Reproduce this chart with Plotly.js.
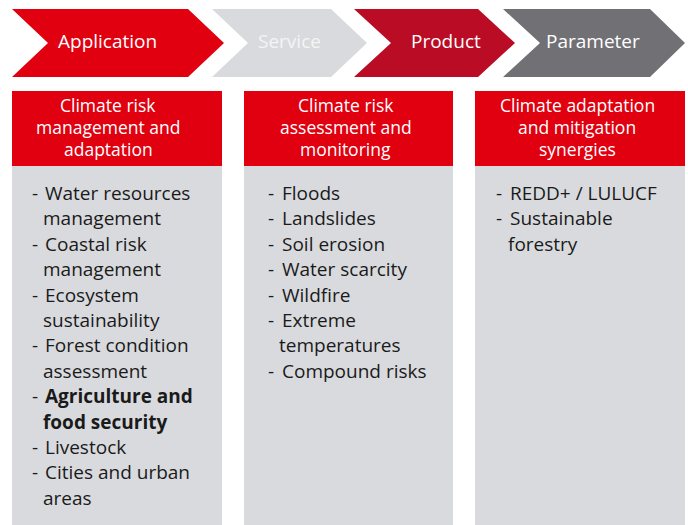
<!DOCTYPE html>
<html>
<head>
<meta charset="utf-8">
<script src="https://cdn.plot.ly/plotly-3.0.1.min.js"></script>
<style>
  html, body { margin: 0; padding: 0; background: #ffffff; }
  #chart { width: 688px; height: 525px; }
</style>
</head>
<body>
<div id="chart"></div>
<script>
// ---- Data ----
const stages = ["Application", "Service", "Product", "Parameter"];

const headers = [
  ["Climate risk", "management and", "adaptation"],
  ["Climate risk", "assessment and", "monitoring"],
  ["Climate adaptation", "and mitigation", "synergies"]
];

const itemsCol1 = [
  ["Water resources", "management"],
  ["Coastal risk", "management"],
  ["Ecosystem", "sustainability"],
  ["Forest condition", "assessment"],
  ["Agriculture and", "food security"],
  ["Livestock"],
  ["Cities and urban", "areas"]
];
const itemsCol2 = [
  ["Floods"],
  ["Landslides"],
  ["Soil erosion"],
  ["Water scarcity"],
  ["Wildfire"],
  ["Extreme", "temperatures"],
  ["Compound risks"]
];
const itemsCol3 = [
  ["REDD+ / LULUCF"],
  ["Sustainable", "forestry"]
];
const highlightedItems = ["Agriculture and"]; // first line of emphasised items
const columnItems = [itemsCol1, itemsCol2, itemsCol3];

// ---- Layout geometry & styles ----
const FONT = "Open Sans, Noto Sans, sans-serif";
const FS = 19;
const HFS = 17.5;
const PAD = 3; // annotation inner offset
const chev = [
  {L: 12, N: 48, R: 188, T: 224, cx: 107, fill: "#E1000F", txt: "#FFFFFF"},
  {L: 212, N: 248, R: 331, T: 367, cx: 289.5, fill: "#D9DADD", txt: "#F4F4F5"},
  {L: 354, N: 391, R: 478, T: 515, cx: 446, fill: "#BA0C24", txt: "#FFFFFF"},
  {L: 503, N: 540, R: 650, T: 685, cx: 593, fill: "#717175", txt: "#FFFFFF"}
];
const chevTop = 9, chevBot = 77, chevMid = 43;

const cols = [
  {x0: 12, x1: 222, hc: 108, dash: 33, text: 46, indent: 44},
  {x0: 244, x1: 453, hc: 345.5, dash: 269, text: 283, indent: 280},
  {x0: 475, x1: 685, hc: 577, dash: 497, text: 511, indent: 509}
];
const headTop = 91, headBot = 166, bodyBot = 525;
const headLineY = [104.5, 127, 149];
const bodyY0 = 193, bodyStep = 25.4;

const shapes = [];
const annotations = [];

stages.forEach((s, i) => {
  const c = chev[i];
  shapes.push({
    type: "path", xref: "x", yref: "y",
    path: `M ${c.L},${chevTop} L ${c.R},${chevTop} L ${c.T},${chevMid} L ${c.R},${chevBot} L ${c.L},${chevBot} L ${c.N},${chevMid} Z`,
    fillcolor: c.fill, line: {width: 0}, layer: "below"
  });
  annotations.push({
    x: c.cx, y: 41, xref: "x", yref: "y", text: s, showarrow: false,
    xanchor: "center", yanchor: "middle",
    font: {family: FONT, size: FS, color: c.txt}
  });
});

cols.forEach((col, ci) => {
  shapes.push({type: "rect", xref: "x", yref: "y", x0: col.x0, x1: col.x1, y0: headBot, y1: bodyBot,
    fillcolor: "#D9DADE", line: {width: 0}, layer: "below"});
  shapes.push({type: "rect", xref: "x", yref: "y", x0: col.x0, x1: col.x1, y0: headTop, y1: headBot,
    fillcolor: "#E1000F", line: {width: 0}, layer: "below"});
  headers[ci].forEach((line, li) => {
    annotations.push({
      x: col.hc, y: headLineY[li], xref: "x", yref: "y", text: line, showarrow: false,
      xanchor: "center", yanchor: "middle",
      font: {family: FONT, size: HFS, color: "#FFFFFF"}
    });
  });
  let row = 0;
  columnItems[ci].forEach(item => {
    const bold = highlightedItems.indexOf(item[0]) >= 0;
    item.forEach((line, li) => {
      const y = bodyY0 + row * bodyStep;
      if (li === 0) {
        annotations.push({
          x: col.dash - PAD, y: y, xref: "x", yref: "y", text: "-", showarrow: false,
          xanchor: "left", yanchor: "middle",
          font: {family: FONT, size: FS, color: "#1A1A1A"}
        });
      }
      annotations.push({
        x: (li === 0 ? col.text : col.indent) - PAD, y: y, xref: "x", yref: "y",
        text: bold ? "<b>" + line + "</b>" : line, showarrow: false,
        xanchor: "left", yanchor: "middle",
        font: {family: FONT, size: FS, color: "#1A1A1A"}
      });
      row++;
    });
  });
});

const layout = {
  width: 688, height: 525,
  margin: {l: 0, r: 0, t: 0, b: 0},
  paper_bgcolor: "#FFFFFF", plot_bgcolor: "#FFFFFF",
  xaxis: {range: [0, 688], visible: false, fixedrange: true},
  yaxis: {range: [525, 0], visible: false, fixedrange: true},
  shapes: shapes, annotations: annotations, showlegend: false
};

Plotly.newPlot("chart", [], layout, {displayModeBar: false, staticPlot: true});
</script>
</body>
</html>
